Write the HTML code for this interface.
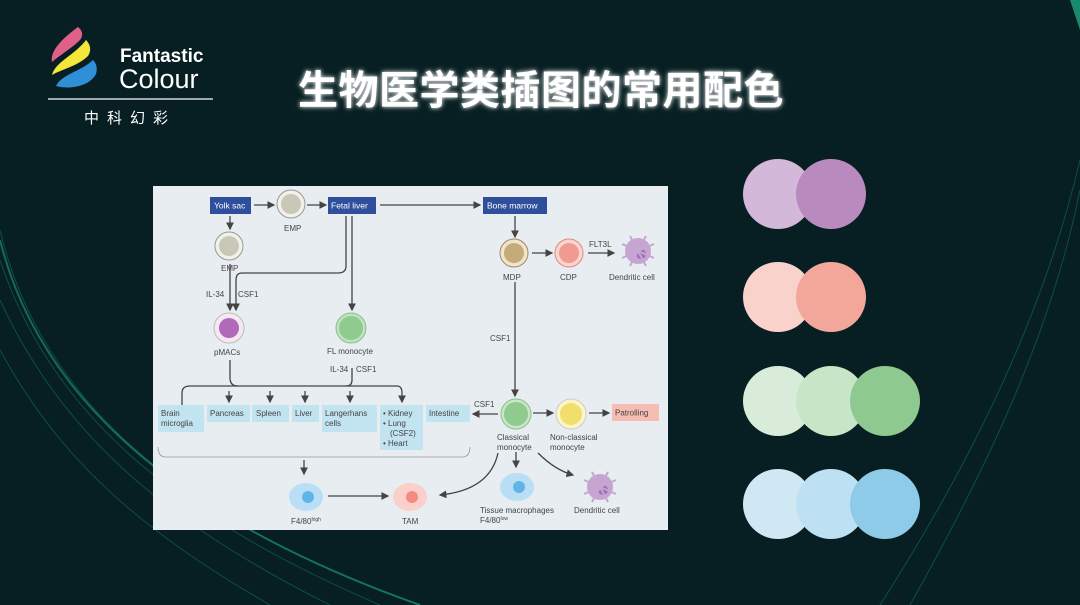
<!DOCTYPE html>
<html><head><meta charset="utf-8"><style>
html,body{margin:0;padding:0;background:#071f22;}
body{width:1080px;height:605px;overflow:hidden;position:relative;font-family:"Liberation Sans","Noto Sans CJK SC",sans-serif;}
.t{position:absolute;left:298px;top:58px;font-size:40px;font-weight:bold;color:#fff;letter-spacing:0.5px;text-shadow:0 0 6px rgba(255,255,255,.7),0 0 3px rgba(255,255,255,.6);white-space:nowrap;}
</style></head><body>
<svg width="1080" height="605" style="position:absolute;left:0;top:0">
<defs>
<marker id="a" markerWidth="6" markerHeight="6" refX="5" refY="3" orient="auto"><path d="M0,0 L6,3 L0,6z" fill="#444"/></marker>
<radialGradient id="g1"><stop offset="0" stop-color="#0f6a55" stop-opacity=".9"/><stop offset="1" stop-color="#0f6a55" stop-opacity="0"/></radialGradient>
</defs>
<!-- background curves -->
<g fill="none" stroke="#0f5a48" stroke-width="1" opacity=".8">
<path d="M0,230 C40,400 180,520 420,605"/>
<path d="M0,260 C50,410 170,515 380,605"/>
<path d="M0,300 C60,430 160,520 330,605"/>
<path d="M0,350 C60,460 140,530 270,605"/>
<path d="M1080,160 C1040,330 960,480 880,605"/>
<path d="M1080,190 C1050,340 980,480 910,605"/>
</g>
<path d="M0,240 C40,400 180,520 420,605" fill="none" stroke="#1a8a6c" stroke-width="2" opacity=".7"/>
<path d="M1070,0 L1080,0 L1080,30z" fill="#1a8a6c"/>
<!-- logo -->
<path d="M78,27 C60,40 50,52 52,62 C60,55 72,48 80,40 C84,35 82,30 78,27z" fill="#e0608a"/>
<path d="M86,40 C75,55 55,62 52,75 C60,70 78,66 88,56 C92,50 90,44 86,40z" fill="#f5e63a"/>
<path d="M93,60 C80,72 62,74 56,86 C70,90 90,86 96,74 C98,68 96,63 93,60z" fill="#2e8fd6"/>
<text x="120" y="62" font-size="19" font-weight="bold" fill="#fff" font-family="Liberation Sans">Fantastic</text>
<text x="119" y="88" font-size="27" fill="#fff" font-family="Liberation Sans">Colour</text>
<line x1="48" y1="99" x2="213" y2="99" stroke="#cfd6d6" stroke-width="1.5"/>
<text x="84" y="123" font-size="15" fill="#fff" letter-spacing="8" font-family="Noto Sans CJK SC,sans-serif">中科幻彩</text>
<!-- swatches -->
<circle cx="778" cy="194" r="35" fill="#d4b8d9"/><circle cx="831" cy="194" r="35" fill="#b98abe"/>
<circle cx="778" cy="297" r="35" fill="#f9d3cb"/><circle cx="831" cy="297" r="35" fill="#f3a69a"/>
<circle cx="778" cy="401" r="35" fill="#d9ebd9"/><circle cx="831" cy="401" r="35" fill="#c9e5c8"/><circle cx="885" cy="401" r="35" fill="#8ec98f"/>
<circle cx="778" cy="504" r="35" fill="#d0e7f4"/><circle cx="831" cy="504" r="35" fill="#bee0f3"/><circle cx="885" cy="504" r="35" fill="#8ecbe8"/>
<!-- panel -->
<rect x="153" y="186" width="515" height="344" fill="#e7edf0"/>
<g font-family="Liberation Sans" font-size="8" fill="#444">
<g fill="#2f4f9c"><rect x="210" y="197" width="41" height="17"/><rect x="328" y="197" width="48" height="17"/><rect x="483" y="197" width="64" height="17"/></g>
<g fill="#fff" font-size="8.5"><text x="214" y="208.5">Yolk sac</text><text x="331" y="208.5">Fetal liver</text><text x="487" y="208.5">Bone marrow</text></g>
<g stroke="#444" stroke-width="1.3" fill="none" marker-end="url(#a)">
<line x1="254" y1="205" x2="274" y2="205"/><line x1="307" y1="205" x2="326" y2="205"/><line x1="380" y1="205" x2="480" y2="205"/>
<line x1="230" y1="216" x2="230" y2="229"/>
<line x1="515" y1="216" x2="515" y2="237"/>
<line x1="532" y1="253" x2="552" y2="253"/><line x1="588" y1="253" x2="614" y2="253"/>
<line x1="230" y1="264" x2="230" y2="310"/>
<path d="M346,216 V266 Q346,273 338,273 H242 Q236,273 236,280 V310"/>
<line x1="352" y1="216" x2="352" y2="310"/>
<line x1="515" y1="282" x2="515" y2="396"/>
<line x1="498" y1="414" x2="473" y2="414"/>
<line x1="533" y1="413" x2="553" y2="413"/><line x1="589" y1="413" x2="609" y2="413"/>
<line x1="516" y1="452" x2="516" y2="467"/>
<path d="M538,453 Q555,470 573,475"/>
<path d="M498,453 Q490,490 440,495"/>
<line x1="304" y1="460" x2="304" y2="474"/>
<line x1="328" y1="496" x2="388" y2="496"/>
<path d="M182,405 V393 Q182,386 190,386 H397 Q402,386 402,393 V402"/>
<line x1="229" y1="391" x2="229" y2="402"/><line x1="270" y1="391" x2="270" y2="402"/><line x1="305" y1="391" x2="305" y2="402"/><line x1="350" y1="391" x2="350" y2="402"/>
</g>
<g stroke="#444" stroke-width="1.3" fill="none">
<path d="M230,360 V378 Q230,386 238,386"/><path d="M352,368 V380 Q352,386 346,386"/>
<path d="M158,447 Q158,457 166,457 H462 Q470,457 470,447" stroke="#999" stroke-width=".8"/>
</g>
<!-- cells -->
<circle cx="291" cy="204" r="14" fill="#f1f1ea" stroke="#999"/><circle cx="291" cy="204" r="10" fill="#c9c8b8"/>
<circle cx="229" cy="246" r="14" fill="#f1f1ea" stroke="#999"/><circle cx="229" cy="246" r="10" fill="#c9c8b8"/>
<circle cx="514" cy="253" r="14" fill="#efe4cd" stroke="#a08a60"/><circle cx="514" cy="253" r="10" fill="#c6ab7a"/>
<circle cx="569" cy="253" r="14" fill="#fbd4cf" stroke="#e08a80"/><circle cx="569" cy="253" r="10" fill="#f19a90"/>
<circle cx="638" cy="251" r="13" fill="#c7a5d3"/><circle cx="641" cy="254" r="5" fill="#a070b4"/>
<g stroke="#c7a5d3" stroke-width="2"><line x1="622" y1="244" x2="654" y2="258"/><line x1="630" y1="236" x2="646" y2="266"/><line x1="622" y1="258" x2="654" y2="244"/><line x1="646" y1="236" x2="630" y2="266"/></g>
<circle cx="229" cy="328" r="15" fill="#f5e8f3" stroke="#bbb"/><circle cx="229" cy="328" r="10" fill="#b06ab8"/>
<circle cx="351" cy="328" r="15" fill="#bfe3bf" stroke="#8bbf8b"/><circle cx="351" cy="328" r="12" fill="#8fcb8f"/>
<circle cx="516" cy="414" r="15" fill="#c9e6c6" stroke="#8bbf8b"/><circle cx="516" cy="414" r="12" fill="#8fcb8f"/>
<circle cx="571" cy="414" r="15" fill="#fbf6c7" stroke="#ccc"/><circle cx="571" cy="414" r="11" fill="#f2de6a"/>
<ellipse cx="306" cy="497" rx="17" ry="14" fill="#b9def5"/><circle cx="308" cy="497" r="6" fill="#5fb4e8"/>
<ellipse cx="410" cy="497" rx="17" ry="14" fill="#fbd0ca"/><circle cx="412" cy="497" r="6" fill="#f28c80"/>
<ellipse cx="517" cy="487" rx="17" ry="14" fill="#b9def5"/><circle cx="519" cy="487" r="6" fill="#5fb4e8"/>
<circle cx="600" cy="487" r="13" fill="#c7a5d3"/><circle cx="603" cy="490" r="5" fill="#a070b4"/>
<g stroke="#c7a5d3" stroke-width="2"><line x1="584" y1="480" x2="616" y2="494"/><line x1="592" y1="472" x2="608" y2="502"/><line x1="584" y1="494" x2="616" y2="480"/><line x1="608" y1="472" x2="592" y2="502"/></g>
<!-- tissue boxes -->
<g fill="#c2e3f0"><rect x="158" y="405" width="46" height="27"/><rect x="207" y="405" width="43" height="17"/><rect x="252" y="405" width="37" height="17"/><rect x="292" y="405" width="27" height="17"/><rect x="322" y="405" width="55" height="27"/><rect x="380" y="405" width="43" height="45"/><rect x="426" y="405" width="44" height="17"/></g>
<rect x="612" y="404" width="47" height="17" fill="#f6bdb3"/>
<text x="161" y="416">Brain</text><text x="161" y="426">microglia</text>
<text x="210" y="416">Pancreas</text><text x="256" y="416">Spleen</text><text x="295" y="416">Liver</text>
<text x="325" y="416">Langerhans</text><text x="325" y="426">cells</text>
<text x="383" y="416">• Kidney</text><text x="383" y="426">• Lung</text><text x="390" y="436">(CSF2)</text><text x="383" y="446">• Heart</text>
<text x="429" y="416">Intestine</text><text x="615" y="415.5">Patrolling</text>
<!-- labels -->
<text x="284" y="231">EMP</text><text x="221" y="271">EMP</text>
<text x="206" y="297">IL-34</text><text x="238" y="297">CSF1</text>
<text x="214" y="355">pMACs</text><text x="327" y="354">FL monocyte</text>
<text x="330" y="372">IL-34</text><text x="356" y="372">CSF1</text>
<text x="503" y="280">MDP</text><text x="560" y="280">CDP</text><text x="589" y="247">FLT3L</text><text x="609" y="280">Dendritic cell</text>
<text x="490" y="341">CSF1</text><text x="474" y="407">CSF1</text>
<text x="497" y="440">Classical</text><text x="497" y="450">monocyte</text>
<text x="550" y="440">Non-classical</text><text x="550" y="450">monocyte</text>
<text x="291" y="524">F4/80<tspan font-size="5" dy="-3">high</tspan></text>
<text x="402" y="524">TAM</text>
<text x="480" y="513">Tissue macrophages</text><text x="480" y="523">F4/80<tspan font-size="5" dy="-3">low</tspan></text>
<text x="574" y="513">Dendritic cell</text>
</g>
</svg>
<div class="t">生物医学类插图的常用配色</div>
</body></html>
